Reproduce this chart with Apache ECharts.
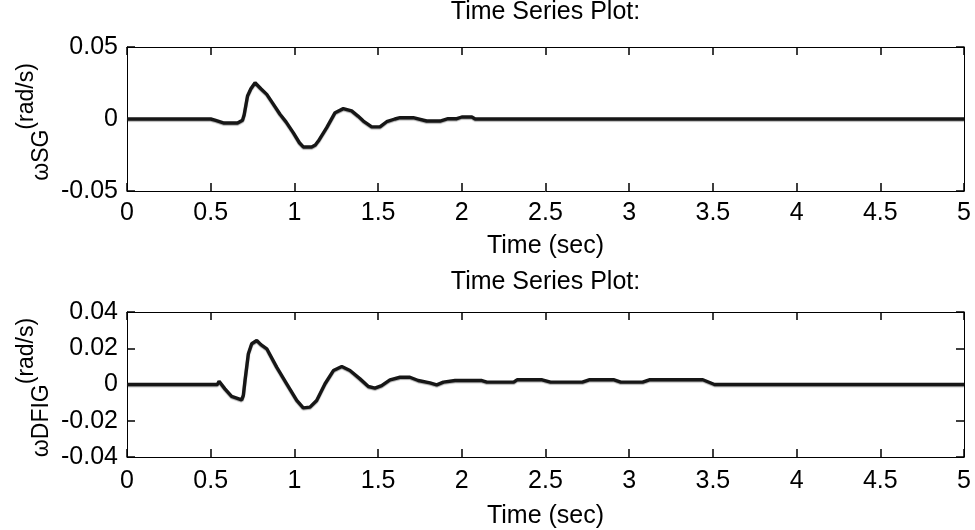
<!DOCTYPE html>
<html>
<head>
<meta charset="utf-8">
<script src="https://cdn.jsdelivr.net/npm/echarts@6/dist/echarts.min.js"></script>
<style>html,body{margin:0;padding:0;background:#fff;}#c{width:975px;height:530px;}</style>
</head>
<body>
<div id="c"></div>
<script>
// ---- data ----
var titleText = 'Time Series Plot:';
var xLabel = 'Time (sec)';
var xTicks = [0, 0.5, 1, 1.5, 2, 2.5, 3, 3.5, 4, 4.5, 5];
var sgTicks = [-0.05, 0, 0.05];
var dfigTicks = [-0.04, -0.02, 0, 0.02, 0.04];

var sgTime = [0, 0.50, 0.53, 0.58, 0.66, 0.69, 0.70, 0.72, 0.74, 0.765, 0.80, 0.835, 0.87, 0.914, 0.95, 0.993, 1.03, 1.053, 1.103, 1.125, 1.143, 1.193, 1.243, 1.292, 1.342, 1.38, 1.412, 1.462, 1.511, 1.551, 1.60, 1.631, 1.71, 1.79, 1.87, 1.918, 1.97, 2.0, 2.06, 2.08, 5];
var sgValue = [0, 0, -0.001, -0.0028, -0.0028, -0.0008, 0.003, 0.016, 0.021, 0.0252, 0.021, 0.0171, 0.011, 0.0033, -0.002, -0.0095, -0.0165, -0.0194, -0.0194, -0.018, -0.0153, -0.006, 0.0044, 0.0072, 0.0056, 0.002, -0.0014, -0.0055, -0.0055, -0.0019, 0, 0.0009, 0.0009, -0.0014, -0.0014, 0.0002, 0.0002, 0.0014, 0.0014, 0, 0];

var dfigTime = [0, 0.54, 0.55, 0.585, 0.625, 0.685, 0.695, 0.705, 0.725, 0.745, 0.775, 0.80, 0.835, 0.894, 0.954, 1.014, 1.053, 1.093, 1.133, 1.183, 1.233, 1.283, 1.332, 1.392, 1.442, 1.481, 1.521, 1.571, 1.631, 1.69, 1.74, 1.81, 1.85, 1.89, 1.96, 2.12, 2.15, 2.31, 2.33, 2.48, 2.53, 2.72, 2.76, 2.91, 2.95, 3.08, 3.12, 3.44, 3.51, 5];
var dfigValue = [0, 0, 0.0018, -0.0024, -0.0066, -0.0085, -0.006, 0.0022, 0.017, 0.0225, 0.0243, 0.022, 0.0197, 0.0096, 0.0004, -0.0088, -0.0129, -0.0125, -0.0088, 0.0004, 0.0077, 0.0099, 0.0077, 0.0031, -0.0011, -0.002, -0.0006, 0.0026, 0.004, 0.004, 0.0022, 0.0009, -0.0002, 0.0013, 0.0022, 0.0022, 0.0013, 0.0013, 0.0026, 0.0026, 0.0013, 0.0013, 0.0026, 0.0026, 0.0013, 0.0013, 0.0026, 0.0026, 0, 0];

// ---- chart ----
var FONT = '"Liberation Sans", Arial, Helvetica, sans-serif';
var FS = 25;
var YFS = 23;
function pairs(t, v) { return t.map(function (x, i) { return [x, v[i]]; }); }
function fmt(v) { return String(Math.round(v * 1000) / 1000); }

var chart = echarts.init(document.getElementById('c'), null, { renderer: 'canvas' });

function xAx(grid, pos, show, gap, margin) {
  return {
    type: 'value', gridIndex: grid, position: pos, min: xTicks[0], max: xTicks[xTicks.length - 1], interval: 0.5,
    axisLine: { show: true, onZero: false, lineStyle: { color: '#000', width: 1 } },
    axisTick: { show: true, inside: true, length: 8, lineStyle: { color: '#000', width: 1.5 } },
    axisLabel: { show: show, margin: margin || 10, fontSize: FS, fontFamily: FONT, color: '#000', formatter: fmt },
    splitLine: { show: false },
    name: show ? xLabel : '', nameLocation: 'middle', nameGap: gap || 40,
    nameTextStyle: { fontSize: FS, fontFamily: FONT, color: '#000' },
    nameMoveOverlap: false
  };
}
function yAx(grid, pos, ticks, sub, show) {
  var step = ticks[1] - ticks[0];
  return {
    type: 'value', gridIndex: grid, position: pos, min: ticks[0], max: ticks[ticks.length - 1], interval: step,
    axisLine: { show: true, onZero: false, lineStyle: { color: '#000', width: 1 } },
    axisTick: { show: true, inside: true, length: 8, lineStyle: { color: '#000', width: 1.5 } },
    axisLabel: { show: show, margin: 9, fontSize: FS, fontFamily: FONT, color: '#000', formatter: fmt },
    splitLine: { show: false },
    name: show ? '{w|ω}{s|' + sub + '}{p|(rad/s)}' : '',
    nameLocation: 'middle', nameRotate: 90, nameGap: 59, nameMoveOverlap: false,
    nameTextStyle: {
      fontFamily: FONT, color: '#000', fontSize: YFS, padding: [0, 6, 0, 0],
      rich: {
        w: { fontSize: YFS, fontFamily: FONT, color: '#000' },
        s: { fontSize: YFS, fontFamily: FONT, color: '#000' },
        p: { fontSize: YFS, fontFamily: FONT, color: '#000', padding: [0, 0, 30, 0] }
      }
    }
  };
}

var lineStyle = { color: '#161616', width: 3.4, shadowColor: 'rgba(0,0,0,0.35)', shadowBlur: 1, shadowOffsetY: 1 };

chart.setOption({
  animation: false,
  backgroundColor: '#fff',
  grid: [
    { left: 127, top: 47, width: 837, height: 144, containLabel: false, outerBoundsMode: 'none' },
    { left: 127, top: 312, width: 837, height: 145, containLabel: false, outerBoundsMode: 'none' }
  ],
  xAxis: [xAx(0, 'bottom', true, 43, 10), xAx(0, 'top', false), xAx(1, 'bottom', true, 46.5, 12), xAx(1, 'top', false)],
  yAxis: [yAx(0, 'left', sgTicks, 'SG', true), yAx(0, 'right', sgTicks, 'SG', false),
          yAx(1, 'left', dfigTicks, 'DFIG', true), yAx(1, 'right', dfigTicks, 'DFIG', false)],
  graphic: [
    { type: 'text', x: 545.5, y: 12, style: { text: titleText, fontSize: 25, fontFamily: FONT, fill: '#000', align: 'center', verticalAlign: 'middle' } },
    { type: 'text', x: 545.5, y: 282, style: { text: titleText, fontSize: 25, fontFamily: FONT, fill: '#000', align: 'center', verticalAlign: 'middle' } }
  ],
  series: [
    { type: 'line', name: 'SG', xAxisIndex: 0, yAxisIndex: 0, data: pairs(sgTime, sgValue), showSymbol: false, lineStyle: lineStyle, smooth: false },
    { type: 'line', name: 'DFIG', xAxisIndex: 2, yAxisIndex: 2, data: pairs(dfigTime, dfigValue), showSymbol: false, lineStyle: lineStyle, smooth: false }
  ]
});
</script>
</body>
</html>
